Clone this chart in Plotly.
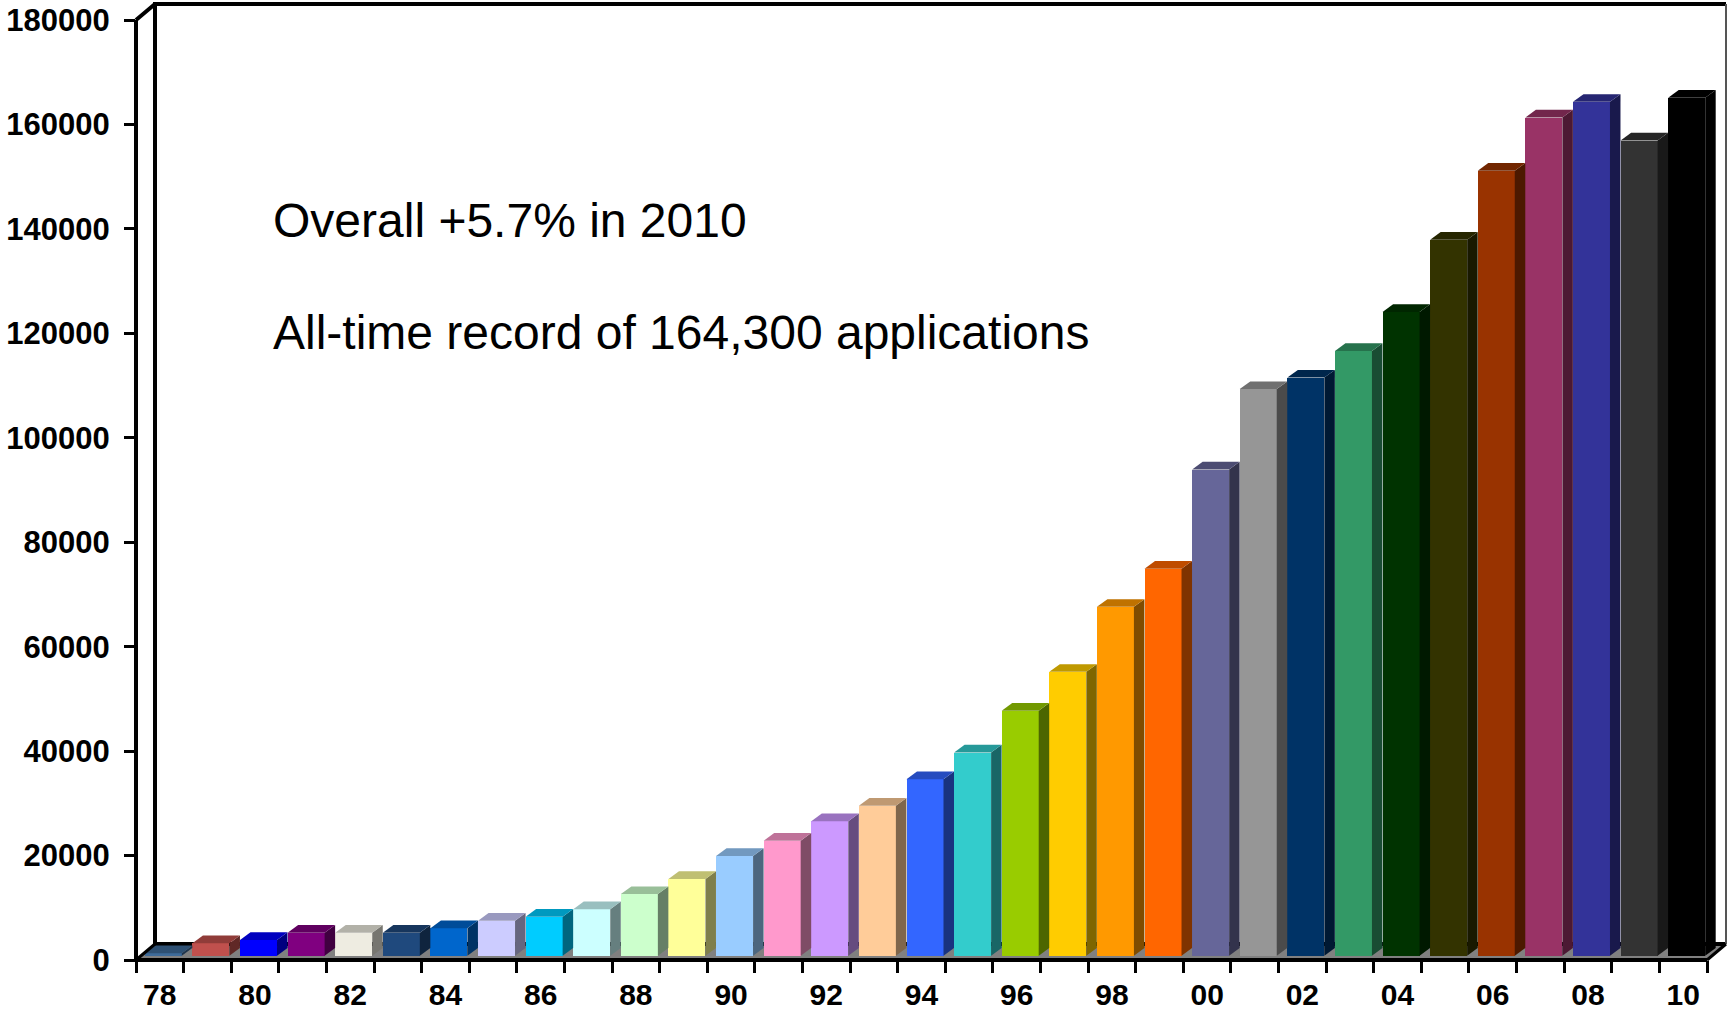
import plotly.graph_objects as go

# ---------------- data ----------------
years = ["78", "79", "80", "81", "82", "83", "84", "85", "86", "87", "88", "89",
         "90", "91", "92", "93", "94", "95", "96", "97", "98", "99",
         "00", "01", "02", "03", "04", "05", "06", "07", "08", "09", "10"]
applications = [460, 2400, 3000, 4400, 4400, 4400, 5250, 6700, 7470, 8900, 11800, 14700,
                19100, 22000, 25750, 28700, 33800, 38900, 46900, 54350, 66800, 74100,
                93100, 108500, 110700, 115800, 123250, 137100, 150300, 160500, 163500, 156100, 164300]
bar_colors = ["#3E6B9A", "#C0504D", "#0000FF", "#800080", "#EEECE1", "#1F497D", "#0066CC",
              "#CCCCFF", "#00CCFF", "#CCFFFF", "#CCFFCC", "#FFFF99", "#99CCFF", "#FF99CC",
              "#CC99FF", "#FFCC99", "#3366FF", "#33CCCC", "#99CC00", "#FFCC00", "#FF9900",
              "#FF6600", "#666699", "#969696", "#003366", "#339966", "#003300", "#333300",
              "#993300", "#993366", "#333399", "#333333", "#000000"]
y_ticks = [0, 20000, 40000, 60000, 80000, 100000, 120000, 140000, 160000, 180000]
note_lines = ["Overall +5.7% in 2010", "All-time record of 164,300 applications"]

# ---------------- geometry (pixels) ----------------
W, H = 1729, 1012
FX0, FX1 = 136, 1707      # front x-axis extent
FY0, FY1 = 960, 20        # front y of 0 and of y_max
DX, DY = 19, 16           # depth offset of back wall
YMAX = y_ticks[-1]
n = len(years)
ppc = (FX1 - FX0) / n                 # px per category
ppv = (FY0 - FY1) / YMAX              # px per value unit

def pxx(x):
    return x / W

def pxy(y):
    return 1 - y / H

# bar depth geometry (in data units)
bw = 37 / ppc
xoff = 3.5 / ppc
b0 = 4.3 / ppv
ddx = 10.5 / ppc
ddy = 7.7 / ppv

def shade(hexc, f):
    h = hexc.lstrip("#")
    r, g, b = (int(h[i:i + 2], 16) for i in (0, 2, 4))
    return "#%02X%02X%02X" % (int(r * f), int(g * f), int(b * f))

fig = go.Figure()
idx = list(range(n))

# front faces
fig.add_trace(go.Bar(
    x=[i + xoff for i in idx], y=applications, base=b0, width=bw,
    marker=dict(color=bar_colors, line=dict(width=0)),
    showlegend=False, hoverinfo="skip"))

# side and top faces
for i, v in enumerate(applications):
    xl = i + xoff - bw / 2
    xr = i + xoff + bw / 2
    top = b0 + v
    fig.add_trace(go.Scatter(
        x=[xr, xr, xr + ddx, xr + ddx, xr],
        y=[b0, top, top + ddy, b0 + ddy, b0],
        mode="lines", fill="toself", fillcolor=shade(bar_colors[i], 0.5),
        line=dict(width=0), showlegend=False, hoverinfo="skip"))
    fig.add_trace(go.Scatter(
        x=[xl, xr, xr + ddx, xl + ddx, xl],
        y=[top, top, top + ddy, top + ddy, top],
        mode="lines", fill="toself", fillcolor=shade(bar_colors[i], 0.75),
        line=dict(width=0), showlegend=False, hoverinfo="skip"))

font_family = "Liberation Sans, Arial, sans-serif"

def seg(x0, y0, x1, y1, width=4, color="black", layer="above"):
    return dict(type="line", xref="paper", yref="paper",
                x0=pxx(x0), y0=pxy(y0), x1=pxx(x1), y1=pxy(y1),
                line=dict(color=color, width=width), layer=layer)

floor_path = "M {} {} L {} {} L {} {} L {} {} Z".format(
    pxx(FX0), pxy(FY0), pxx(FX1), pxy(FY0),
    pxx(FX1 + DX), pxy(FY0 - DY), pxx(FX0 + DX), pxy(FY0 - DY))

shapes = [
    dict(type="path", xref="paper", yref="paper", path=floor_path,
         fillcolor="#808080", line=dict(width=0), layer="below"),
    # back wall
    seg(FX0 + DX, FY0 - DY, FX0 + DX, FY1 - DY, layer="below"),
    seg(FX0 + DX - 2, FY1 - DY, FX1 + DX, FY1 - DY, layer="below"),
    seg(FX0 + DX, FY0 - DY, FX1 + DX, FY0 - DY, layer="below"),
    seg(FX1 + DX, FY1 - DY, FX1 + DX, FY0 - DY, width=2, color="#555555", layer="below"),
    # front frame
    seg(FX0, FY0 + 2, FX0, FY1),
    seg(FX0, FY1, FX0 + DX, FY1 - DY),
    seg(FX0 - 2, FY0, FX1, FY0),
    seg(FX0, FY0, FX0 + DX, FY0 - DY, width=3),
    seg(FX1, FY0, FX1 + DX, FY0 - DY, width=3),
]

annotations = []
for k, txt in enumerate(note_lines):
    annotations.append(dict(
        text=txt, xref="paper", yref="paper", x=pxx(271), y=pxy(220.5 + 111.5 * k),
        xanchor="left", yanchor="middle", showarrow=False,
        font=dict(family=font_family, size=48, color="black")))

fig.update_layout(
    width=W, height=H, margin=dict(l=0, r=0, t=0, b=0, autoexpand=False),
    paper_bgcolor="white", plot_bgcolor="rgba(0,0,0,0)",
    bargap=0, showlegend=False,
    shapes=shapes, annotations=annotations,
    xaxis=dict(
        domain=[pxx(FX0), pxx(FX1 + DX)],
        range=[-0.5, n - 0.5 + DX / ppc],
        automargin=False,
        tickmode="array", tickvals=idx[::2], ticktext=years[::2],
        ticks="", showline=False, showgrid=False, zeroline=False,
        tickfont=dict(family=font_family, size=30, color="black", weight="bold"),
        ticklabelstandoff=14,
        minor=dict(tickmode="array", tickvals=[i - 0.5 for i in range(n + 1)],
                   ticks="outside", ticklen=12, tickwidth=3, tickcolor="black",
                   showgrid=False),
        fixedrange=True),
    yaxis=dict(
        domain=[pxy(FY0), pxy(FY1 - DY)],
        range=[0, YMAX + DY / ppv],
        automargin=False,
        tickmode="array", tickvals=y_ticks, ticktext=[str(t) for t in y_ticks],
        ticks="outside", ticklen=11, tickwidth=3, tickcolor="black",
        showline=False, showgrid=False, zeroline=False,
        tickfont=dict(family=font_family, size=31, color="black", weight="bold"),
        ticklabelstandoff=8,
        fixedrange=True),
)

fig.write_html("out.html")
